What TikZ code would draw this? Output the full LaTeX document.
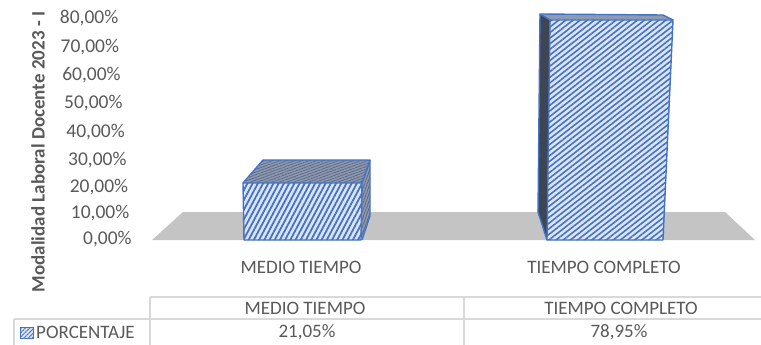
\documentclass[tikz,border=0pt]{standalone}
\usepackage{fontspec}
\setmainfont{Carlito}
\usetikzlibrary{patterns.meta}
\definecolor{txt}{HTML}{595959}
\definecolor{barblue}{HTML}{4472C4}
\definecolor{barbg}{HTML}{DCE5F5}
\definecolor{topbg}{HTML}{8E9AB2}
\definecolor{topln}{HTML}{5D6984}
\definecolor{sidedark}{HTML}{3E4555}
\definecolor{floorgray}{HTML}{C4C4C4}
\definecolor{gridc}{HTML}{D9D9D9}
\tikzset{
  axlbl/.style={text=txt,font=\fontsize{19.5}{22}\selectfont,inner sep=0pt,anchor=east},
  catlbl/.style={text=txt,font=\fontsize{19}{22}\selectfont,inner sep=0pt},
  ttl/.style={text=txt,font=\bfseries\fontsize{19}{22}\selectfont,inner sep=0pt,rotate=90},
  gridline/.style={draw=gridc,line width=1.5pt},
  outl/.style={draw=barblue,line width=1.4pt,line join=round},
}
\begin{document}
\begin{tikzpicture}[x=1pt,y=-1pt]
\useasboundingbox (0,0) rectangle (761,345);
% floor
\fill[floorgray] (152,240) -- (183,212) -- (725,212) -- (755,240) -- cycle;
% ---- bar 1
\fill[topbg] (244,183) -- (263,160) -- (370,160) -- (362,183) -- cycle;
\fill[pattern={Lines[angle=20,distance=2.5pt,line width=0.8pt]},pattern color=topln] (244,183) -- (263,160) -- (370,160) -- (362,183) -- cycle;
\fill[topbg] (362,183) -- (370,160) -- (370,216) -- (362,240) -- cycle;
\fill[pattern={Lines[angle=70,distance=2.5pt,line width=0.8pt]},pattern color=topln] (362,183) -- (370,160) -- (370,216) -- (362,240) -- cycle;
\fill[barbg] (243,183) -- (362,183) -- (361,240) -- (244,240) -- cycle;
\fill[pattern={Lines[angle=62,distance=4.6pt,line width=1.8pt]},pattern color=barblue] (243,183) -- (362,183) -- (361,240) -- (244,240) -- cycle;
\draw[outl] (243,183) -- (263,160) -- (370,160) -- (362,183);
\draw[outl] (370,160) -- (370,216) -- (362,240);
\draw[outl] (243,183) -- (362,183) -- (361,240) -- (244,240) -- cycle;
% ---- bar 2
\fill[sidedark] (540,14) -- (550,20) -- (547,240) -- (538,212) -- cycle;
\fill[topbg] (540,14) -- (663,15) -- (673,20) -- (550,20) -- cycle;
\fill[barbg] (550,20) -- (673,20) -- (663,240) -- (547,240) -- cycle;
\fill[pattern={Lines[angle=38,distance=4.4pt,line width=1.6pt]},pattern color=barblue] (550,20) -- (673,20) -- (663,240) -- (547,240) -- cycle;
\draw[outl] (550,20) -- (540,14) -- (663,15) -- (673,20);
\draw[outl] (540,14) -- (538,212) -- (547,240);
\draw[outl] (550,20) -- (673,20) -- (663,240) -- (547,240) -- cycle;
% ---- axis labels
\node[axlbl] (y80) at (118.5,18.3) {80,00\%};
\node[axlbl] (y70) at (119.2,46.7) {70,00\%};
\node[axlbl] (y60) at (120.8,75) {60,00\%};
\node[axlbl] (y50) at (122.7,103) {50,00\%};
\node[axlbl] (y40) at (125,131.7) {40,00\%};
\node[axlbl] (y30) at (126.7,160) {30,00\%};
\node[axlbl] (y20) at (128.3,187.3) {20,00\%};
\node[axlbl] (y10) at (129.5,213.3) {10,00\%};
\node[axlbl] (y0) at (131.8,239.3) {0,00\%};
\node[ttl] (title) at (38,152) {Modalidad Laboral Docente 2023 - I};
% ---- category labels
\node[catlbl] (c1) at (301,267) {MEDIO TIEMPO};
\node[catlbl] (c2) at (604,267) {TIEMPO COMPLETO};
% ---- table
\draw[gridline] (150,297) -- (761,297);
\draw[gridline] (14,319) -- (761,319);
\draw[gridline] (150,297) -- (150,345);
\draw[gridline] (464,297) -- (464,345);
\draw[gridline] (14,319) -- (14,345);
\node[catlbl] (h1) at (305,308) {MEDIO TIEMPO};
\node[catlbl] (h2) at (621,308) {TIEMPO COMPLETO};
\node[catlbl] (v1) at (307,332) {21,05\%};
\node[catlbl] (v2) at (619,332) {78,95\%};
\fill[barbg] (20,327) rectangle (33,338);
\fill[pattern={Lines[angle=45,distance=3pt,line width=1pt]},pattern color=barblue] (20,327) rectangle (33,338);
\draw[barblue,line width=1pt] (20,327) rectangle (33,338);
\node[catlbl,anchor=west] (leg) at (36,332) {PORCENTAJE};
\end{tikzpicture}
\end{document}
